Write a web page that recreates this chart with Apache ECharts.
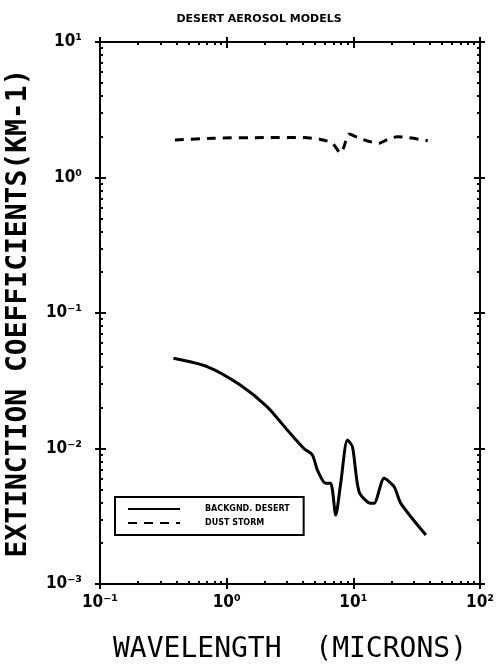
<!DOCTYPE html>
<html><head><meta charset="utf-8">
<script src="https://cdn.jsdelivr.net/npm/echarts@6/dist/echarts.min.js"></script>
<style>html,body{margin:0;padding:0;background:#fff}#c{width:497px;height:667px}</style>
</head><body><div id="c"></div>
<script>
// Background desert model (solid)
const wlBackground = [0.38, 0.70, 1.28, 2.09, 3.01, 4.07, 4.75, 5.20, 6.04, 6.62, 7.26, 7.95, 8.98, 9.84, 11.1, 13.7, 14.6, 17.5, 21.0, 23.7, 37.4];
const extBackground = [0.0463, 0.0402, 0.0294, 0.0203, 0.0137, 0.0100, 0.00895, 0.00694, 0.00553, 0.00553, 0.00323, 0.00555, 0.01156, 0.0103, 0.0048, 0.00394, 0.00394, 0.00603, 0.00522, 0.00394, 0.0023];
// Dust storm model (dashed)
const wlStorm = [0.39, 0.79, 1.96, 4.07, 5.52, 6.84, 7.95, 8.44, 9.24, 10.8, 12.9, 16.0, 18.6, 22.3, 38.7];
const extStorm = [1.89, 1.95, 1.97, 1.97, 1.91, 1.79, 1.51, 1.69, 2.09, 1.98, 1.86, 1.79, 1.91, 2.00, 1.87];
const seriesNames = ['BACKGND. DESERT', 'DUST STORM'];
const xTicks = [0.1, 1, 10, 100];
const yTicks = [0.001, 0.01, 0.1, 1, 10];
const minorMultipliers = [2, 3, 4, 5, 6, 7, 8, 9];
const titleText = 'DESERT AEROSOL MODELS';
const xName = 'WAVELENGTH  (MICRONS)';
const yName = 'EXTINCTION COEFFICIENTS(KM-1)';

const sup = {'-':'⁻','0':'⁰','1':'¹','2':'²','3':'³'};
function powLabel(v){
  const e = Math.round(Math.log10(v));
  return '10' + String(e).split('').map(c => sup[c]).join('');
}
function pairs(xs, ys){ return xs.map((x,i)=>[x, ys[i]]); }
function minorsOf(majors){
  const out = [];
  majors.slice(0, -1).forEach(d => minorMultipliers.forEach(m => out.push(+(d*m).toPrecision(6))));
  return out;
}
const xMinor = minorsOf(xTicks);
const yMinor = minorsOf(yTicks);

const labelFont = {color:'#000', fontFamily:'DejaVu Sans Condensed', fontSize:17, fontWeight:'bold'};

// kind: 'main' (line+labels+outer major ticks), 'majorIn', 'minor'
function axisDef(dim, pos, kind){
  const ticks = dim === 'x' ? xTicks : yTicks;
  const a = {type:'log', logBase:10, min:ticks[0], max:ticks[ticks.length-1], position:pos, offset:0,
    splitLine:{show:false}, minorTick:{show:false},
    axisLine:{show: kind === 'main', lineStyle:{color:'#000', width:2}},
    axisLabel:{show:false}};
  if (kind === 'main') {
    a.axisTick = {show:true, inside:false, length:5, customValues:ticks, lineStyle:{color:'#000', width:2}};
  } else if (kind === 'majorIn') {
    a.axisTick = {show:true, inside:true, length:6, customValues:ticks, lineStyle:{color:'#000', width:2}};
  } else {
    a.axisTick = {show:true, inside:true, length:3, customValues: dim === 'x' ? xMinor : yMinor, lineStyle:{color:'#000', width:2}};
  }
  return a;
}

const xMain = axisDef('x', 'bottom', 'main');
xMain.axisLabel = Object.assign({show:true, margin:10, formatter: powLabel, customValues:xTicks}, labelFont);
xMain.name = xName; xMain.nameLocation = 'middle'; xMain.nameGap = 52;
xMain.nameTextStyle = {color:'#000', fontFamily:'DejaVu Sans Mono', fontSize:28};

const yMain = axisDef('y', 'left', 'main');
yMain.axisLabel = Object.assign({show:true, margin:18, formatter: powLabel, customValues:yTicks}, labelFont);
yMain.name = yName; yMain.nameLocation = 'middle'; yMain.nameGap = 67; yMain.nameRotate = 90;
yMain.nameTextStyle = {color:'#000', fontFamily:'DejaVu Sans Mono', fontSize:28, fontWeight:'bold'};

const chart = echarts.init(document.getElementById('c'));
chart.setOption({
  backgroundColor:'#fff',
  animation:false,
  title:{text:titleText, left:254, textAlign:'center', top:9,
    textStyle:{fontFamily:'DejaVu Sans', fontSize:11, fontWeight:'bold', color:'#000'}},
  grid:{left:100, right:17, top:42, bottom:83, containLabel:false, outerBoundsMode:'none'},
  xAxis:[xMain, axisDef('x','bottom','majorIn'), axisDef('x','bottom','minor'),
         axisDef('x','top','main'), axisDef('x','top','majorIn'), axisDef('x','top','minor')],
  yAxis:[yMain, axisDef('y','left','majorIn'), axisDef('y','left','minor'),
         axisDef('y','right','main'), axisDef('y','right','majorIn'), axisDef('y','right','minor')],
  legend:{
    left:115, top:497, orient:'vertical', itemWidth:52, itemHeight:10, itemGap:6,
    padding:[8,14,8,12], borderColor:'#000', borderWidth:2,
    itemStyle:{color:'rgba(0,0,0,0)', borderWidth:0},
    textStyle:{color:'#000', fontFamily:'DejaVu Sans', fontSize:8, fontWeight:'bold', padding:[0,0,0,20]},
    data:seriesNames
  },
  series:[
    {name:seriesNames[0], type:'line', xAxisIndex:0, yAxisIndex:0, data:pairs(wlBackground, extBackground), symbol:'none', smooth:0.25,
      lineStyle:{color:'#000', width:3}, itemStyle:{color:'#000'}},
    {name:seriesNames[1], type:'line', xAxisIndex:0, yAxisIndex:0, data:pairs(wlStorm, extStorm), symbol:'none', smooth:0.25,
      lineStyle:{color:'#000', width:3, type:[9,7]}, itemStyle:{color:'#000'}}
  ]
});
</script></body></html>
